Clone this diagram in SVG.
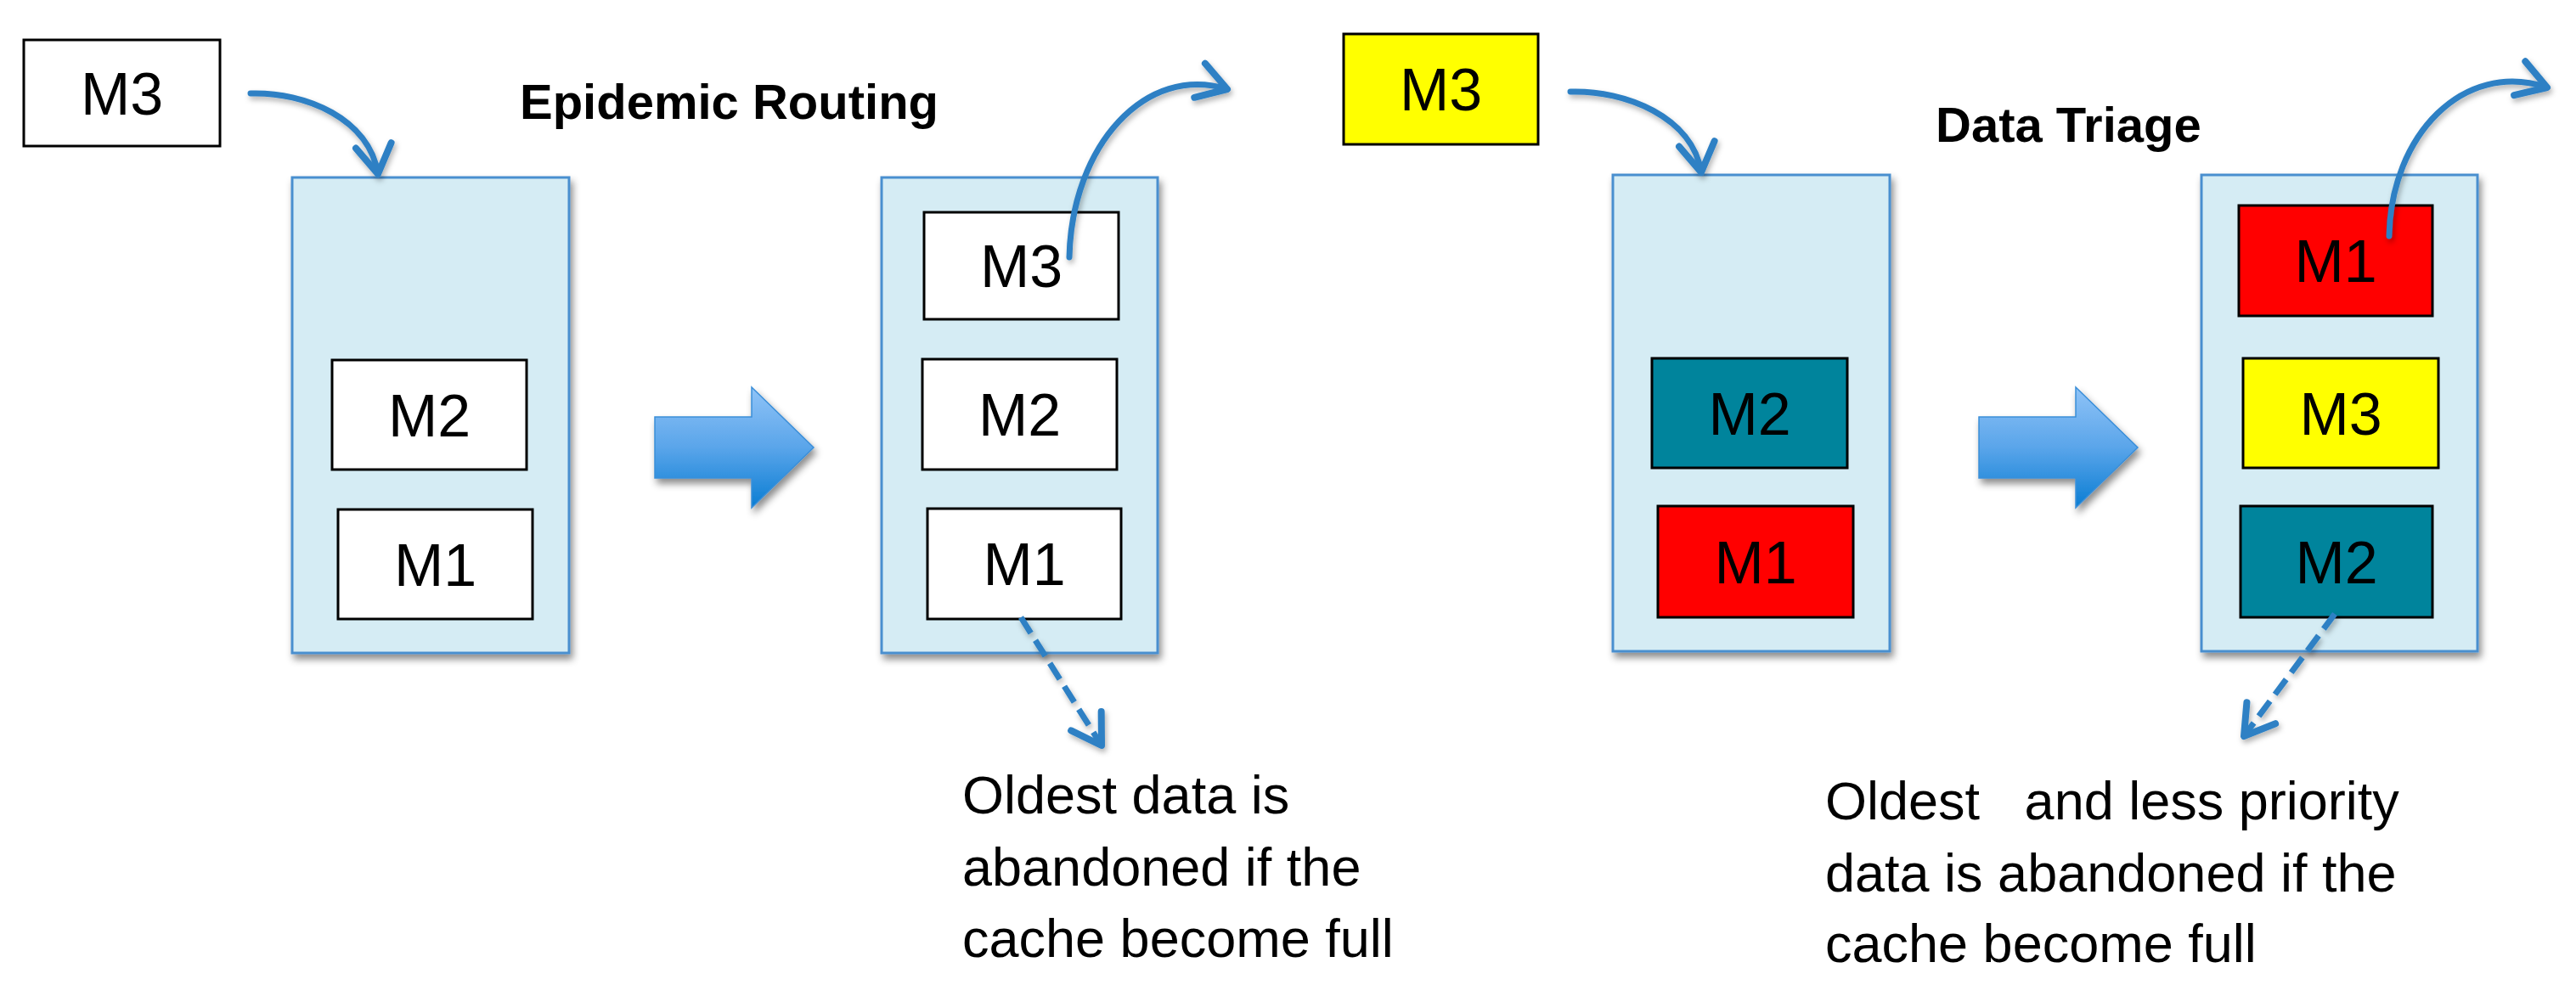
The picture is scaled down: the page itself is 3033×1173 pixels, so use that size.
<svg xmlns="http://www.w3.org/2000/svg" width="3033" height="1173" viewBox="0 0 3033 1173">
<defs>
<style>
.cont{fill:#D5ECF4;stroke:#4A8FCF;stroke-width:3;filter:url(#sh)}
.msg{stroke:#000;stroke-width:3}
.w{fill:#fff}.r{fill:#FF0000}.y{fill:#FFFF00}.t{fill:#00849C}
.lbl{font-family:"Liberation Sans",Arial,sans-serif;font-size:70px;fill:#000;text-anchor:middle}
.title{font-family:"Liberation Sans",Arial,sans-serif;font-size:58px;font-weight:bold;fill:#000}
.note{font-family:"Liberation Sans",Arial,sans-serif;font-size:63px;fill:#000;white-space:pre}
.curve{fill:none;stroke:#2E80C4;stroke-width:7;stroke-linecap:round;marker-end:url(#chev);filter:url(#sh2)}
.dash{fill:none;stroke:#2E80C4;stroke-width:7;stroke-dasharray:22 10;marker-end:url(#chev);filter:url(#sh2)}
.big{fill:url(#bg);stroke:#3A8ED8;stroke-width:1.5;filter:url(#sh)}
</style>
<linearGradient id="bg" x1="0" y1="0" x2="0" y2="1">
<stop offset="0" stop-color="#8FC3F7"/>
<stop offset="0.5" stop-color="#5AA5EA"/>
<stop offset="1" stop-color="#0A7DD3"/>
</linearGradient>
<filter id="sh" x="-20%" y="-20%" width="140%" height="140%">
<feDropShadow dx="3" dy="6" stdDeviation="4" flood-color="#000" flood-opacity="0.45"/>
</filter>
<filter id="sh2" x="-20%" y="-20%" width="140%" height="140%">
<feDropShadow dx="2" dy="4" stdDeviation="3" flood-color="#000" flood-opacity="0.3"/>
</filter>
<marker id="chev" markerUnits="userSpaceOnUse" markerWidth="80" markerHeight="80" refX="0" refY="0" orient="auto" overflow="visible">
<path d="M-34,-21 L0,0 L-34,21" fill="none" stroke="#2E80C4" stroke-width="8" stroke-linecap="round" stroke-linejoin="round" stroke-dasharray="none"/>
</marker>
</defs>
<rect width="3033" height="1173" fill="#fff"/>

<g id="title-epidemic"><text class="title" x="612" y="140">Epidemic Routing</text></g>
<g id="title-triage"><text class="title" x="2279" y="167">Data Triage</text></g>

<g id="m3-in-left"><rect class="msg w" x="28" y="47" width="231" height="125"/><text class="lbl" x="143.5" y="135">M3</text></g>

<g id="cache1">
<rect class="cont" x="344" y="209" width="326" height="560"/>
<g id="c1-m2"><rect class="msg w" x="391" y="424" width="229" height="129"/><text class="lbl" x="505.5" y="514">M2</text></g>
<g id="c1-m1"><rect class="msg w" x="398" y="600" width="229" height="129"/><text class="lbl" x="512.5" y="690">M1</text></g>
</g>

<g id="bigarrow1"><path class="big" d="M771,491 L885,491 L885,456 L958,527 L885,598 L885,563 L771,563 Z"/></g>

<g id="cache2">
<rect class="cont" x="1038" y="209" width="325" height="560"/>
<g id="c2-m3"><rect class="msg w" x="1088" y="250" width="229" height="126"/><text class="lbl" x="1202.5" y="338">M3</text></g>
<g id="c2-m2"><rect class="msg w" x="1086" y="423" width="229" height="130"/><text class="lbl" x="1200.5" y="513">M2</text></g>
<g id="c2-m1"><rect class="msg w" x="1092" y="599" width="228" height="130"/><text class="lbl" x="1206" y="689">M1</text></g>
</g>

<g id="note-left"><text class="note" x="1133" y="958">Oldest data is</text><text class="note" x="1133" y="1043">abandoned if the</text><text class="note" x="1133" y="1127">cache become full</text></g>

<g id="m3-in-right"><rect class="msg y" x="1582" y="40" width="229" height="130"/><text class="lbl" x="1696.5" y="130">M3</text></g>

<g id="cache3">
<rect class="cont" x="1899" y="206" width="326" height="561"/>
<g id="c3-m2"><rect class="msg t" x="1945" y="422" width="230" height="129"/><text class="lbl" x="2060" y="512">M2</text></g>
<g id="c3-m1"><rect class="msg r" x="1952" y="596" width="230" height="131"/><text class="lbl" x="2067" y="687">M1</text></g>
</g>

<g id="bigarrow2"><path class="big" d="M2330,491 L2444,491 L2444,456 L2517,527 L2444,598 L2444,563 L2330,563 Z"/></g>

<g id="cache4">
<rect class="cont" x="2592" y="206" width="325" height="561"/>
<g id="c4-m1"><rect class="msg r" x="2636" y="242" width="228" height="130"/><text class="lbl" x="2750" y="332">M1</text></g>
<g id="c4-m3"><rect class="msg y" x="2641" y="422" width="230" height="129"/><text class="lbl" x="2756" y="512">M3</text></g>
<g id="c4-m2"><rect class="msg t" x="2638" y="596" width="226" height="131"/><text class="lbl" x="2751" y="687">M2</text></g>
</g>

<g id="note-right"><text class="note" x="2149" y="965">Oldest   and less priority</text><text class="note" x="2149" y="1050">data is abandoned if the</text><text class="note" x="2149" y="1133">cache become full</text></g>

<g id="connectors">
<path class="curve" d="M295,110 C360,108 435,140 445,205"/>
<path class="curve" d="M1259,303 C1262,170 1350,75 1445,105"/>
<path class="dash" d="M1202,727 L1297,878"/>
<path class="curve" d="M1849,108 C1914,106 1993,138 2003,203"/>
<path class="curve" d="M2813,278 C2815,160 2900,70 2999,103"/>
<path class="dash" d="M2749,723 L2642,867"/>
</g>
</svg>
